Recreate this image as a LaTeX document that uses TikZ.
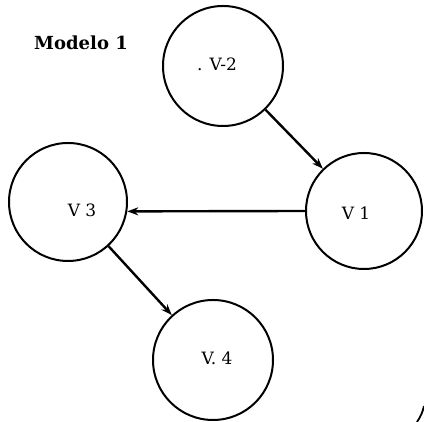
\documentclass[tikz,border=0pt]{standalone}
\usepackage{fontspec}
\setmainfont{DejaVu Serif}
\usetikzlibrary{arrows.meta}
\begin{document}
\begin{tikzpicture}[x=1pt,y=1pt,
  var/.style={circle,draw,line width=2pt,minimum size=120pt,inner sep=0pt},
  lab/.style={font=\fontsize{17}{17}\selectfont},
  link/.style={line width=2.4pt,-{Stealth[length=11pt,width=8pt]}}]
\useasboundingbox (0,0) rectangle (424,422);
\node[font=\bfseries\fontsize{18}{18}\selectfont] (title) at (81,379) {Modelo 1};
\node[var] (V2) at (223,356) {};
\node[lab] (l2) at (217,358) {. V-2};
\node[var,minimum size=116pt] (V1) at (364,211) {};
\node[lab] (l1) at (356,209) {V 1};
\node[var,minimum size=118pt] (V3) at (68,220) {};
\node[lab] (l3) at (82,212) {V 3};
\node[var] (V4) at (213,62) {};
\node[lab] (l4) at (217,64) {V. 4};
\draw[link] (V2) -- (V1);
\draw[link] (V1.west) -- (V3.-9);
\draw[link] (V3) -- (V4);
% page edge stroke in the corner
\coordinate (e1) at (424,16);
\coordinate (e2) at (417,0);
\draw[line width=1.8pt] (e1) to[bend left=10] (e2);
\end{tikzpicture}
\end{document}
